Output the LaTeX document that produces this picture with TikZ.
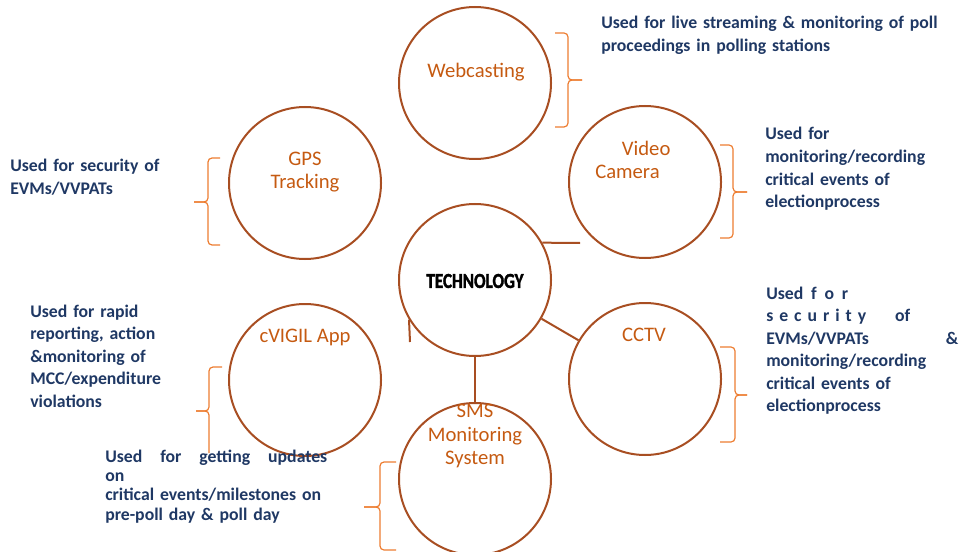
\documentclass[tikz,border=0pt]{standalone}
\usepackage{fontspec}
\setmainfont{Carlito}
\newfontfamily\techfont[FakeBold=2]{Carlito}
\usepackage{graphicx}
\usepackage{tikz}
\definecolor{rim}{RGB}{168,78,34}
\definecolor{tagc}{RGB}{197,90,17}
\definecolor{curlc}{RGB}{237,125,49}
\definecolor{ink}{RGB}{31,56,100}
\tikzstyle{bub}=[draw=rim,line width=1.5pt,circle,minimum size=114pt,inner sep=0pt]
\tikzstyle{tag}=[text=tagc,font=\fontsize{15.5}{17.5}\selectfont,align=center,inner sep=0pt]
\tikzstyle{use}=[text=ink,font=\fontsize{13.3}{16.9}\selectfont\bfseries,anchor=base west,inner sep=0pt,text width=220pt,align=left]
\tikzstyle{curl}=[draw=curlc,line width=0.9pt,rounded corners=3pt]
\tikzstyle{lnk}=[draw=rim,line width=1.5pt]

\begin{document}
\begin{tikzpicture}[x=0.75pt,y=-0.75pt]
	\useasboundingbox (0,0) rectangle (962,552);
	% circles
	\node[bub] (tech) at (475,280) {};
	\node[bub] (web) at (475,83) {};
	\node[bub] (gps) at (305,183) {};
	\node[bub] (cam) at (645,182) {};
	\node[bub] (cctv) at (645,379) {};
	\node[bub] (app) at (305,380) {};
	\node[bub] (sms) at (475,479) {};
	% links
	\coordinate (camend) at (580,243);
	\coordinate (stub) at (410,342);
	\draw[lnk] (tech.29) -- (camend);
	\draw[lnk] (tech) -- (cctv);
	\draw[lnk] (tech) -- (sms);
	\draw[lnk] (tech.211) -- (stub);
	% names
	\node[font=\techfont\fontsize{16}{18}\selectfont\bfseries] (techt) at (475,281) {\scalebox{0.8}[1]{TECHNOLOGY}};
	\node[tag] (webt) at (476,72) {Webcasting};
	\node[tag] (gpst) at (305,172) {GPS\\Tracking};
	\node[tag,anchor=west,align=left] (camt) at (595,160) {\hspace*{20pt}Video\\Camera};
	\node[tag] (cctvt) at (644,335) {CCTV};
	\node[tag] (appt) at (305,337) {cVIGIL App};
	\node[tag] (smst) at (475,436) {SMS\\Monitoring\\System};
	% braces
	\draw[curl] (555,33) -- (568,33) -- (568,80) -- (582,80);
	\draw[curl] (555,127) -- (568,127) -- (568,80) -- (582,80);
	\draw[curl] (720,145) -- (733,145) -- (733,192) -- (747,192);
	\draw[curl] (720,238) -- (733,238) -- (733,192) -- (747,192);
	\draw[curl] (220,158) -- (208,158) -- (208,202) -- (194,202);
	\draw[curl] (220,245) -- (208,245) -- (208,202) -- (194,202);
	\draw[curl] (720,347) -- (735,347) -- (735,395) -- (747,395);
	\draw[curl] (720,442) -- (735,442) -- (735,395) -- (747,395);
	\draw[curl] (222,367) -- (209,367) -- (209,411) -- (196,411);
	\draw[curl] (209,453) -- (209,411) -- (196,411);
	\draw[curl] (396,462) -- (380,462) -- (380,507) -- (364,507);
	\draw[curl] (396,550) -- (380,550) -- (380,507) -- (364,507);
	% uses
	\node[use,text width=280pt] (webu) at (601,29) {Used for live streaming \& monitoring of poll\\proceedings in polling stations};
	\node[use] (camu) at (765,140) {Used for\\monitoring/recording\\critical events of\\electionprocess};
	\node[use] (gpsu) at (10,172) {Used for security of\\EVMs/VVPATs};
	\node[use] (cctvu) at (766,299) {\makebox[61.5pt][l]{Used\hfill f\hfill o\hfill r}\\
		\makebox[108pt][l]{\makebox[75pt][l]{s\hfill e\hfill c\hfill u\hfill r\hfill i\hfill t\hfill y}\hfill of}\\
		\makebox[144pt][l]{EVMs/VVPATs\hfill\&}\\
		monitoring/recording\\critical events of\\electionprocess};
	\node[use] (appu) at (30,317) {Used for rapid\\reporting, action\\\&monitoring of\\MCC/expenditure\\violations};
	\node[use,font=\fontsize{13.3}{14.5}\selectfont\bfseries] (smsu) at (105,462) {\makebox[166.5pt][l]{Used\hfill for\hfill getting\hfill updates}\\on\\critical events/milestones on\\pre-poll day \& poll day};
\end{tikzpicture}
\end{document}
